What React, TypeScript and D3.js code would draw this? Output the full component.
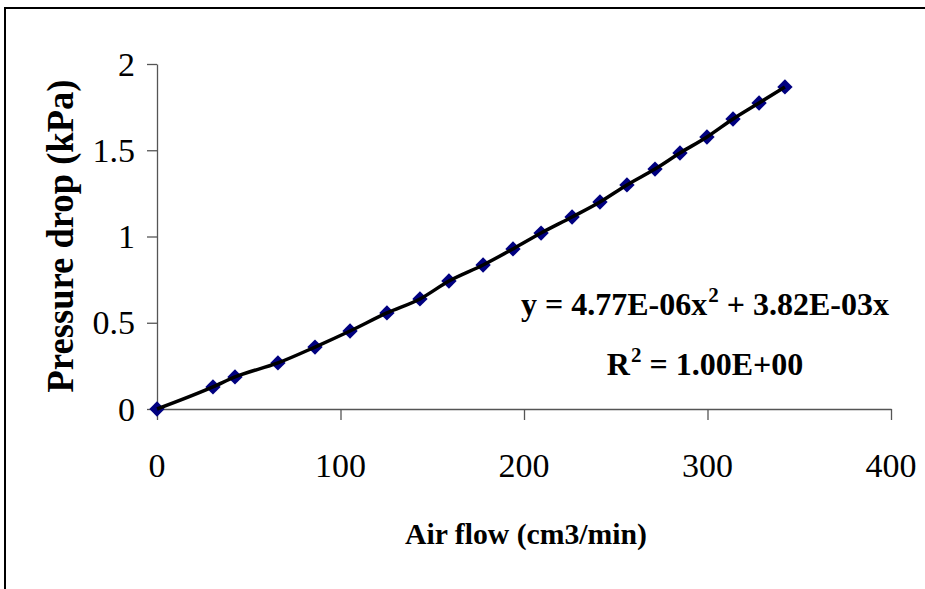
import * as React from "react";
import * as d3 from "d3";

// measured air flow (cm3/min) and pressure drop (kPa)
const airFlow = [
  0, 30.5, 42.5, 65.9, 86.1, 105.2, 125.3, 143.3, 159.1, 177.7, 194.0, 209.3,
  226.2, 241.4, 256.1, 271.4, 285.0, 299.7, 313.9, 328.1, 342.2,
];
const pressureDrop = [
  0, 0.128, 0.186, 0.267, 0.359, 0.452, 0.557, 0.638, 0.742, 0.835, 0.928,
  1.02, 1.113, 1.2, 1.299, 1.391, 1.484, 1.577, 1.681, 1.774, 1.867,
];
const xTicks = [0, 100, 200, 300, 400];
const yTicks = [0, 0.5, 1, 1.5, 2];
const xTitle = "Air flow (cm3/min)";
const yTitle = "Pressure drop (kPa)";

const FONT = '"Liberation Serif", "Times New Roman", serif';

function drawChart(svgRef) {
  const width = 925;
  const height = 589;
  const svg = d3.select(svgRef.current);
  svg.selectAll("*").remove();
  svg.attr("width", width).attr("height", height);

  const data = airFlow.map((x, i) => ({ x, y: pressureDrop[i] }));

  const xScale = d3.scaleLinear().domain([0, 400]).range([157, 891]);
  const yScale = d3.scaleLinear().domain([0, 2]).range([409, 64]);

  // outer frame (clipped on right/bottom like the original)
  svg
    .append("path")
    .attr("d", `M5,${height + 5} L5,8 L${width + 5},8`)
    .attr("fill", "none")
    .attr("stroke", "#000")
    .attr("stroke-width", 2);

  const axisColor = "#555";

  // x axis
  const xAxis = d3
    .axisBottom(xScale)
    .tickValues(xTicks)
    .tickSize(11)
    .tickSizeOuter(0)
    .tickFormat(() => "");
  const gx = svg
    .append("g")
    .attr("transform", `translate(0, ${yScale(0)})`)
    .call(xAxis);
  gx.select(".domain").attr("stroke", axisColor).attr("stroke-width", 1.3);
  gx.selectAll(".tick line").attr("stroke", axisColor).attr("stroke-width", 1.3);

  svg
    .append("g")
    .selectAll("text")
    .data(xTicks)
    .enter()
    .append("text")
    .attr("x", (d) => xScale(d))
    .attr("y", 477)
    .attr("text-anchor", "middle")
    .attr("font-family", FONT)
    .attr("font-size", 34)
    .attr("fill", "#000")
    .text((d) => d);

  // y axis
  const yAxis = d3
    .axisLeft(yScale)
    .tickValues(yTicks)
    .tickSize(10)
    .tickSizeOuter(0)
    .tickFormat(() => "");
  const gy = svg
    .append("g")
    .attr("transform", `translate(${xScale(0)}, 0)`)
    .call(yAxis);
  gy.select(".domain").attr("stroke", axisColor).attr("stroke-width", 1.3);
  gy.selectAll(".tick line").attr("stroke", axisColor).attr("stroke-width", 1.3);

  svg
    .append("g")
    .selectAll("text")
    .data(yTicks)
    .enter()
    .append("text")
    .attr("x", 135)
    .attr("y", (d) => yScale(d))
    .attr("dy", "0.34em")
    .attr("text-anchor", "end")
    .attr("font-family", FONT)
    .attr("font-size", 34)
    .attr("fill", "#000")
    .text((d) => d);

  // axis titles
  svg
    .append("text")
    .attr("x", 526)
    .attr("y", 544)
    .attr("text-anchor", "middle")
    .attr("font-family", FONT)
    .attr("font-weight", "bold")
    .attr("font-size", 30)
    .attr("textLength", 242)
    .attr("lengthAdjust", "spacingAndGlyphs")
    .text(xTitle);

  svg
    .append("text")
    .attr("transform", "translate(73, 236) rotate(-90)")
    .attr("text-anchor", "middle")
    .attr("font-family", FONT)
    .attr("font-weight", "bold")
    .attr("font-size", 37)
    .attr("textLength", 313)
    .attr("lengthAdjust", "spacingAndGlyphs")
    .text(yTitle);

  // diamond markers
  const diamond = d3.symbol().type(d3.symbolDiamond2).size(150);
  svg
    .append("g")
    .selectAll("path")
    .data(data)
    .enter()
    .append("path")
    .attr("d", diamond)
    .attr("transform", (d) => `translate(${xScale(d.x)}, ${yScale(d.y)})`)
    .attr("fill", "#000080");

  // black trend line drawn over the markers
  const line = d3
    .line()
    .x((d) => xScale(d.x))
    .y((d) => yScale(d.y))
    .curve(d3.curveMonotoneX);

  svg
    .append("path")
    .datum(data)
    .attr("d", line)
    .attr("fill", "none")
    .attr("stroke", "#000")
    .attr("stroke-width", 3.5)
    .attr("stroke-linejoin", "round");

  // equation
  const eq = svg
    .append("text")
    .attr("x", 705)
    .attr("y", 315)
    .attr("text-anchor", "middle")
    .attr("font-family", FONT)
    .attr("font-weight", "bold")
    .attr("font-size", 32)
    .attr("fill", "#000");
  eq.append("tspan").text("y = 4.77E-06x");
  eq.append("tspan").attr("font-size", 21).attr("dx", 1).attr("dy", -13).text("2");
  eq.append("tspan").attr("dy", 13).text(" + 3.82E-03x");

  const r2 = svg
    .append("text")
    .attr("x", 705)
    .attr("y", 375)
    .attr("text-anchor", "middle")
    .attr("font-family", FONT)
    .attr("font-weight", "bold")
    .attr("font-size", 32)
    .attr("fill", "#000");
  r2.append("tspan").text("R");
  r2.append("tspan").attr("font-size", 21).attr("dx", 1).attr("dy", -13).text("2");
  r2.append("tspan").attr("dy", 13).text(" = 1.00E+00");
}

const App = () => {
  const svg = React.useRef(null);
  React.useEffect(() => {
    drawChart(svg);
  }, [svg]);

  return (
    <svg
      ref={svg}
      style={{ position: "absolute", left: 0, top: 0, background: "#fff" }}
    />
  );
};

export default App;
